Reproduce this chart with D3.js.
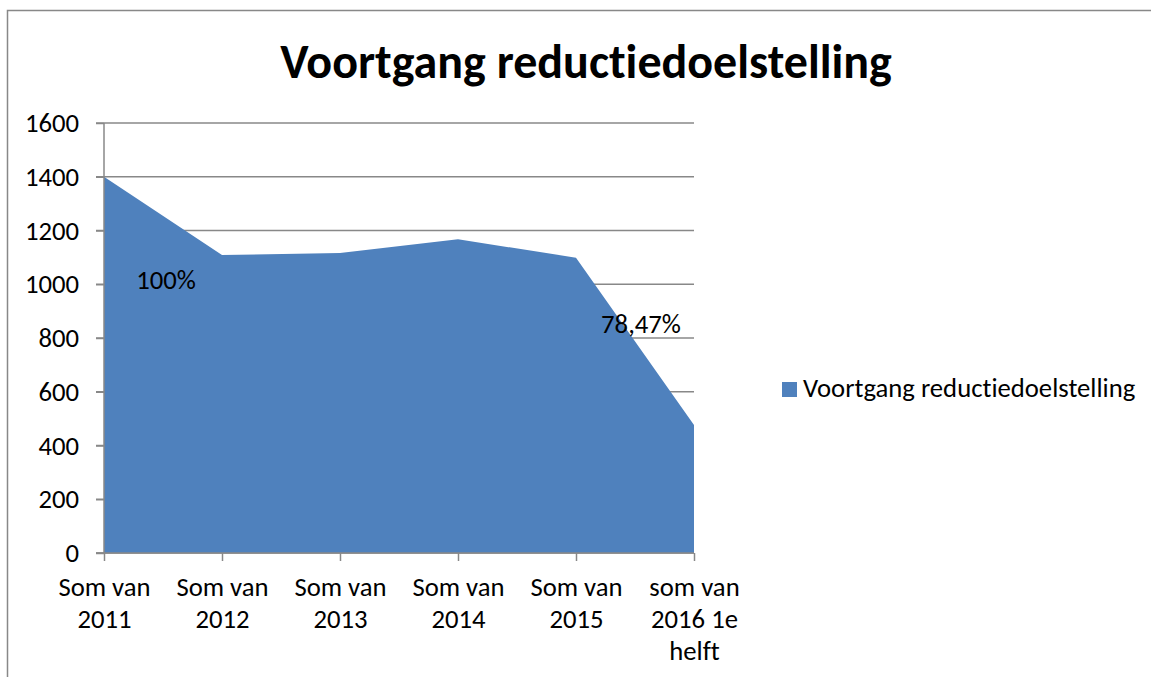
<!DOCTYPE html>
<html>
	<head>
		<meta charset="utf8" />
		<script src="https://cdn.jsdelivr.net/npm/d3@7"></script>
		<style>
			body { margin: 0; background: #fff; }
			text { font-family: Carlito, "Open Sans", "Liberation Sans", sans-serif; fill: #000; font-variant-ligatures: none; }
		</style>
	</head>
	<body>
		<script>
			var w = 1151;
			var h = 677;

			var categories = [
				["Som van", "2011"],
				["Som van", "2012"],
				["Som van", "2013"],
				["Som van", "2014"],
				["Som van", "2015"],
				["som van", "2016 1e", "helft"]
			];
			var values = [1400, 1109, 1116, 1167, 1099, 476];
			var yTicks = [0, 200, 400, 600, 800, 1000, 1200, 1400, 1600];
			var seriesName = "Voortgang reductiedoelstelling";
			var title = "Voortgang reductiedoelstelling";
			// data labels: [category index, text]
			var dataLabels = [[0, "100%"], [4, "78,47%"]];

			var plotLeft = 104, plotRight = 694, plotTop = 123, plotBottom = 553;
			var fontSize = "26.7px";

			var svg = d3.select("body")
						.append("svg")
						.attr("width", w)
						.attr("height", h);

			// chart border
			svg.append("rect")
			   .attr("x", 7.5)
			   .attr("y", 10.5)
			   .attr("width", w + 20)
			   .attr("height", h + 20)
			   .attr("fill", "none")
			   .attr("stroke", "#888")
			   .attr("stroke-width", 1.5);

			var x = d3.scalePoint()
					  .domain(d3.range(categories.length))
					  .range([plotLeft, plotRight]);

			var y = d3.scaleLinear()
					  .domain([0, 1600])
					  .range([plotBottom, plotTop]);

			// gridlines
			svg.append("g")
			   .selectAll("line")
			   .data(yTicks)
			   .enter()
			   .append("line")
			   .attr("x1", plotLeft - 8)
			   .attr("x2", plotRight)
			   .attr("y1", function(d) { return y(d); })
			   .attr("y2", function(d) { return y(d); })
			   .attr("stroke", "#888")
			   .attr("stroke-width", 1.5);

			// area
			var area = d3.area()
						 .x(function(d, i) { return x(i); })
						 .y0(y(0))
						 .y1(function(d) { return y(d); });

			svg.append("path")
			   .datum(values)
			   .attr("d", area)
			   .attr("fill", "#4F81BD");

			// y axis
			var yAxis = svg.append("g")
						   .attr("transform", "translate(" + plotLeft + ",0)")
						   .call(d3.axisLeft(y).tickValues(yTicks).tickFormat(d3.format("d")).tickSize(8).tickPadding(17));
			yAxis.select(".domain").attr("stroke", "#888").attr("stroke-width", 1.5)
				 .attr("d", "M0," + plotTop + "V" + plotBottom);
			yAxis.selectAll(".tick line").attr("stroke", "#888").attr("stroke-width", 1.5);
			yAxis.selectAll(".tick text").attr("font-size", fontSize);
			yAxis.attr("font-size", null).attr("font-family", null);

			// x axis
			var xAxis = svg.append("g")
						   .attr("transform", "translate(0," + plotBottom + ")")
						   .call(d3.axisBottom(x).tickSize(8).tickFormat(""));
			xAxis.attr("font-size", null).attr("font-family", null);
			xAxis.select(".domain").attr("stroke", "#888").attr("stroke-width", 1.5)
				 .attr("d", "M" + (plotLeft - 8) + ",0H" + plotRight);
			xAxis.selectAll(".tick line").attr("stroke", "#888").attr("stroke-width", 1.5);

			xAxis.selectAll(".tick")
				 .each(function(d) {
					var t = d3.select(this).select("text");
					t.attr("y", 0).attr("dy", null);
					t.selectAll("tspan")
					 .data(categories[d])
					 .enter()
					 .append("tspan")
					 .attr("x", 0)
					 .attr("y", function(s, i) { return 43 + i * 32; })
					 .text(function(s) { return s; });
				 })
				 .selectAll("text")
				 .attr("font-size", fontSize)
				 .attr("text-anchor", "middle");

			// data labels
			svg.selectAll(".dlabel")
			   .data(dataLabels)
			   .enter()
			   .append("text")
			   .attr("class", "dlabel")
			   .attr("x", function(d) { return x(d[0]) + (d[0] === 0 ? 62 : 65); })
			   .attr("y", function(d) { return d[0] === 0 ? 289 : 333; })
			   .attr("text-anchor", "middle")
			   .attr("font-size", fontSize)
			   .text(function(d) { return d[1]; });

			// title
			svg.append("text")
			   .attr("x", 586)
			   .attr("y", 78)
			   .attr("text-anchor", "middle")
			   .attr("font-size", "48px")
			   .attr("font-weight", "bold")
			   .text(title);

			// legend
			var legend = svg.append("g").attr("transform", "translate(782,382)");
			legend.append("rect")
				  .attr("width", 15)
				  .attr("height", 15)
				  .attr("fill", "#4F81BD");
			legend.append("text")
				  .attr("x", 21)
				  .attr("y", 15)
				  .attr("font-size", fontSize)
				  .text(seriesName);
		</script>
	</body>
</html>
